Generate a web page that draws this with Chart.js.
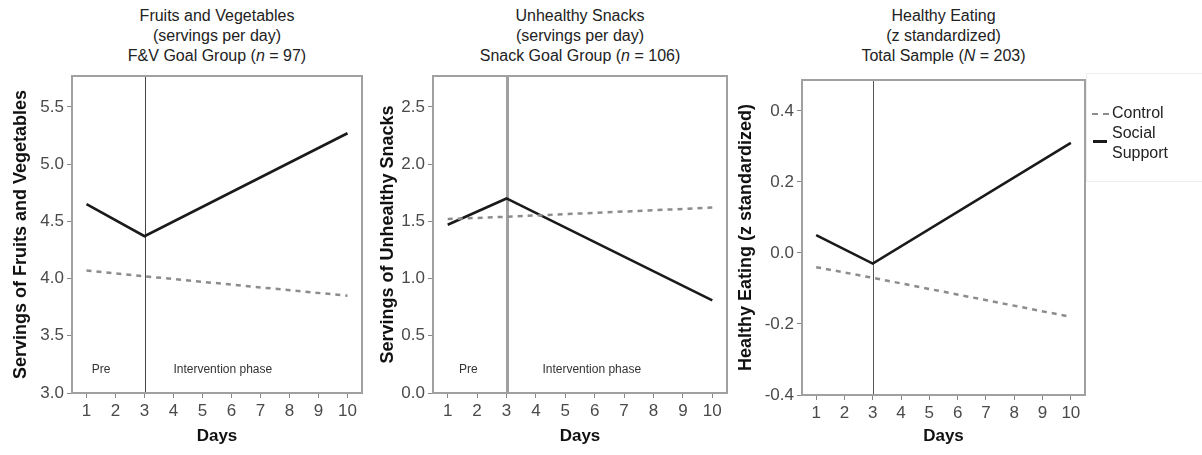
<!DOCTYPE html>
<html><head><meta charset="utf-8">
<script src="https://cdn.jsdelivr.net/npm/chart.js@4/dist/chart.umd.min.js"></script>
<style>
body{margin:0;width:1202px;height:455px;background:#fff;position:relative;overflow:hidden;font-family:"Liberation Sans",Arial,sans-serif;}
canvas{position:absolute;top:0;}
.title{position:absolute;top:6px;text-align:center;font-size:16px;line-height:20px;color:#222;}
.legend{position:absolute;left:1086px;top:73px;width:118px;height:107px;border:1px solid #eee;border-right:none;font-size:16px;color:#222;}
.legend .row{position:absolute;left:0;}
.legend .sw{position:absolute;}
</style>
</head><body>
<div class="title" style="left:62px;width:310px">Fruits and Vegetables<br>(servings per day)<br>F&amp;V Goal Group (<i>n</i> = 97)</div>
<div class="title" style="left:425px;width:310px">Unhealthy Snacks<br>(servings per day)<br>Snack Goal Group (<i>n</i> = 106)</div>
<div class="title" style="left:790px;width:307px">Healthy Eating<br>(z standardized)<br>Total Sample (<i>N</i> = 203)</div>
<canvas id="c1" width="380" height="455" style="left:0px"></canvas>
<canvas id="c2" width="368" height="455" style="left:372px"></canvas>
<canvas id="c3" width="367" height="455" style="left:735px"></canvas>
<div class="legend">
  <div class="sw" style="left:5px;top:39px;width:17px;border-top:2px dashed #8c8c8c"></div>
  <div class="row" style="left:25px;top:30px">Control</div>
  <div class="sw" style="left:6px;top:66px;width:14px;border-top:3px solid #1a1a1a"></div>
  <div class="row" style="left:25px;top:49px;line-height:20px">Social<br>Support</div>
</div>
<script>
// ---- data ----
const days = [1, 3, 10];
const dayTicks = [1, 2, 3, 4, 5, 6, 7, 8, 9, 10];

const fvControl = [4.07, 4.02, 3.85];
const fvSupport = [4.65, 4.37, 5.27];
const fvTicks = [3.0, 3.5, 4.0, 4.5, 5.0, 5.5];

const snControl = [1.52, 1.54, 1.62];
const snSupport = [1.47, 1.70, 0.81];
const snTicks = [0.0, 0.5, 1.0, 1.5, 2.0, 2.5];

const heControl = [-0.04, -0.07, -0.18];
const heSupport = [0.05, -0.03, 0.31];
const heTicks = [-0.4, -0.2, 0.0, 0.2, 0.4];

const FONT = '"Liberation Sans", Arial, sans-serif';

const decoPlugin = {
  id: 'deco',
  beforeDatasetsDraw(chart, args, o) {
    const {ctx, chartArea: a, scales: {x, y}} = chart;
    ctx.save();
    const px = Math.round(x.getPixelForValue(3)) + (o.vWidth % 2 ? 0.5 : 0);
    ctx.strokeStyle = o.vColor; ctx.lineWidth = o.vWidth;
    ctx.beginPath(); ctx.moveTo(px, a.top); ctx.lineTo(px, a.bottom); ctx.stroke();
    ctx.fillStyle = '#333';
    ctx.font = '12px ' + FONT;
    ctx.textAlign = 'center'; ctx.textBaseline = 'middle';
    (o.labels || []).forEach(l => ctx.fillText(l.text, x.getPixelForValue(l.x), y.getPixelForValue(l.y)));
    ctx.restore();
  },
  afterDraw(chart, args, o) {
    const {ctx, chartArea: a} = chart;
    ctx.save();
    ctx.strokeStyle = '#a0a0a0'; ctx.lineWidth = 2;
    ctx.strokeRect(a.left, a.top, a.right - a.left, a.bottom - a.top);
    ctx.restore();
  }
};

function makePanel(id, ctrl, supp, yTicks, yMin, yMax, yTitle, yw, yTitlePad, padTop, padRight, xh, deco) {
  new Chart(document.getElementById(id), {
    type: 'line',
    data: {
      datasets: [
        { label: 'Control', data: days.map((d, i) => ({x: d, y: ctrl[i]})),
          borderColor: '#8c8c8c', borderWidth: 2.5, borderDash: [5, 5], pointRadius: 0, fill: false },
        { label: 'Social Support', data: days.map((d, i) => ({x: d, y: supp[i]})),
          borderColor: '#1a1a1a', borderWidth: 2.6, pointRadius: 0, fill: false }
      ]
    },
    options: {
      responsive: false, animation: false, events: [],
      layout: { padding: { top: padTop, right: padRight, left: 0, bottom: 0 } },
      plugins: { legend: { display: false }, tooltip: { enabled: false }, deco: deco },
      scales: {
        x: {
          type: 'linear', min: 0.5, max: 10.5,
          afterBuildTicks: s => { s.ticks = dayTicks.map(v => ({value: v})); },
          afterFit: s => { s.height = xh; },
          grid: { display: true, drawOnChartArea: false, tickLength: 5, color: '#888', lineWidth: 1 },
          border: { display: false },
          ticks: { color: '#4a4a4a', font: { size: 17, family: FONT }, padding: 3, maxRotation: 0,
                   callback: v => String(v) },
          title: { display: true, text: 'Days', color: '#111', font: { size: 17, weight: 'bold', family: FONT }, padding: { top: 0, bottom: 8 } }
        },
        y: {
          min: yMin, max: yMax,
          afterBuildTicks: s => { s.ticks = yTicks.map(v => ({value: v})); },
          afterFit: s => { s.width = yw; },
          grid: { display: true, drawOnChartArea: false, tickLength: 5, color: '#888', lineWidth: 1 },
          border: { display: false },
          ticks: { color: '#4a4a4a', font: { size: 17, family: FONT }, padding: 3,
                   callback: v => Number(v).toFixed(1) },
          title: { display: true, text: yTitle, color: '#111', font: { size: 18, weight: 'bold', family: FONT }, padding: { top: yTitlePad, bottom: 0 } }
        }
      }
    },
    plugins: [decoPlugin]
  });
}

makePanel('c1', fvControl, fvSupport, fvTicks, 3.0, 5.77, 'Servings of Fruits and Vegetables', 72, 10, 76, 18, 62,
  { vColor: '#444', vWidth: 1, labels: [{text: 'Pre', x: 1.5, y: 3.2}, {text: 'Intervention phase', x: 5.7, y: 3.2}] });
makePanel('c2', snControl, snSupport, snTicks, 0.0, 2.77, 'Servings of Unhealthy Snacks', 61, 5, 76, 13, 62,
  { vColor: '#a0a0a0', vWidth: 3, labels: [{text: 'Pre', x: 1.7, y: 0.2}, {text: 'Intervention phase', x: 5.9, y: 0.2}] });
makePanel('c3', heControl, heSupport, heTicks, -0.4, 0.487, 'Healthy Eating (z standardized)', 67, 0, 80, 17, 60,
  { vColor: '#555', vWidth: 1, labels: [] });
</script>
</body></html>
